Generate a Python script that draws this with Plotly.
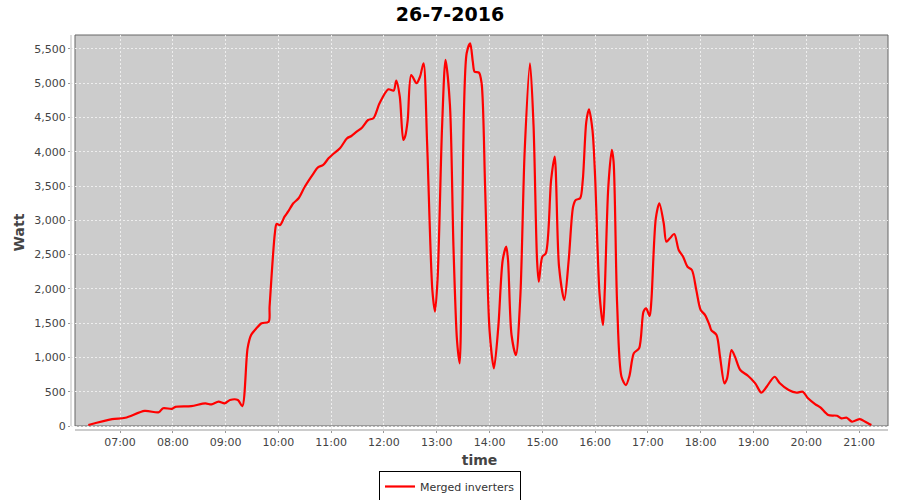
import plotly.graph_objects as go

DATE = "2016-07-26"

times = [
    "06:24", "06:51", "07:06", "07:28", "07:44", "07:49", "07:59", "08:03", "08:21", "08:37",
    "08:44", "08:52", "08:59", "09:05", "09:14", "09:19", "09:25", "09:29", "09:35", "09:41",
    "09:49", "09:50", "09:56", "09:58", "10:02", "10:07", "10:11", "10:17", "10:23", "10:30",
    "10:40", "10:45", "10:51", "10:57", "11:02", "11:10", "11:18", "11:23", "11:29", "11:35",
    "11:42", "11:48", "11:55", "12:05", "12:11", "12:14", "12:18", "12:22", "12:24", "12:27",
    "12:31", "12:37", "12:41", "12:45", "12:49", "12:55", "12:58", "13:01", "13:06", "13:10",
    "13:15", "13:19", "13:23", "13:26", "13:29", "13:34", "13:38", "13:41", "13:43", "13:48",
    "13:51", "13:55", "14:00", "14:05", "14:10", "14:15", "14:19", "14:21", "14:25", "14:30",
    "14:35", "14:40", "14:46", "14:50", "14:54", "14:56", "15:00", "15:04", "15:10", "15:14",
    "15:19", "15:25", "15:30", "15:35", "15:38", "15:43", "15:46", "15:50", "15:53", "15:57",
    "16:00", "16:05", "16:09", "16:11", "16:15", "16:19", "16:21", "16:25", "16:30", "16:35",
    "16:39", "16:44", "16:50", "16:55", "16:58", "17:02", "17:04", "17:09", "17:13", "17:18",
    "17:21", "17:25", "17:30", "17:35", "17:40", "17:45", "17:50", "17:55", "18:00", "18:05",
    "18:10", "18:12", "18:18", "18:22", "18:27", "18:30", "18:35", "18:39", "18:45", "18:54",
    "19:02", "19:09", "19:15", "19:24", "19:30", "19:40", "19:49", "19:56", "20:02", "20:10",
    "20:16", "20:25", "20:35", "20:40", "20:46", "20:52", "21:01", "21:07", "21:14",
]

watts = [
    15, 100, 120, 220, 200, 260, 250, 280, 290, 330,
    315, 355, 330, 380, 380, 290, 1133, 1327, 1425, 1498,
    1522, 1740, 2811, 2947, 2932, 3054, 3127, 3249, 3322, 3491,
    3687, 3774, 3808, 3905, 3964, 4051, 4197, 4231, 4293, 4352,
    4464, 4489, 4708, 4912, 4892, 5038, 4804, 4172, 4221, 4464,
    5121, 5000, 5096, 5291, 4148, 1984, 1668, 2155, 4343, 5340,
    4683, 2616, 1255, 915, 3127, 5437, 5583, 5315, 5169, 5155,
    5000, 3468, 1400, 842, 1449, 2422, 2616, 2422, 1328, 1036,
    1886, 4027, 5291, 4391, 2422, 2105, 2470, 2519, 3589, 3929,
    2324, 1838, 2422, 3200, 3297, 3322, 3589, 4440, 4620, 4318,
    3637, 1936, 1474, 1984, 3491, 4027, 3856, 1790, 719, 598,
    730, 1061, 1133, 1668, 1717, 1605, 1838, 3030, 3249, 2957,
    2689, 2738, 2801, 2568, 2470, 2324, 2276, 1984, 1692, 1619,
    1474, 1400, 1328, 1011, 623, 696, 1109, 1011, 817, 730,
    623, 486, 574, 719, 623, 525, 486, 500, 404, 321,
    272, 160, 150, 112, 121, 63, 102, 63, 15,
]

series_name = "Merged inverters"
chart_title = "26-7-2016"
x_title = "time"
y_title = "Watt"

x_dt = [f"{DATE} {t}:00" for t in times]

FONT = "DejaVu Sans"

fig = go.Figure()
fig.add_trace(go.Scatter(
    x=x_dt, y=watts, mode="lines", name=series_name,
    line=dict(color="#ff0000", width=2.2, shape="spline", smoothing=0.8),
    showlegend=True,
))

W, H = 900, 500
ml, mr, mt, mb = 71, 12, 35, 70
pw = W - ml - mr
ph = H - mt - mb
gx = 4 / pw
gy = 4 / ph

fig.update_layout(
    width=W, height=H,
    margin=dict(l=ml, r=mr, t=mt, b=mb, autoexpand=False),
    paper_bgcolor="white",
    plot_bgcolor="white",
    font=dict(family=FONT, color="#444444", size=11),
    title=dict(text=f"<b>{chart_title}</b>", x=0.5, xanchor="center",
               yref="container", y=0.972, yanchor="middle",
               font=dict(family=FONT, size=19, color="black"), automargin=False),
    xaxis=dict(
        type="date", automargin=False,
        range=[f"{DATE} 06:04:18", f"{DATE} 21:32:54"],
        tickformat="%H:%M", dtick=3600000, tick0=f"{DATE} 07:00:00",
        showgrid=True, gridcolor="#eeeeee", griddash="2px,2px", gridwidth=1,
        showline=False, zeroline=False,
        ticks="outside", ticklen=2, tickcolor="#999999",
        tickfont=dict(size=11, color="#444444"),
        title=dict(text=f"<b>{x_title}</b>", font=dict(size=14, color="#444444"), standoff=6),
    ),
    yaxis=dict(
        range=[-58, 5704], automargin=False,
        dtick=500, tick0=0, tickformat=",",
        showgrid=True, gridcolor="#eeeeee", griddash="2px,2px", gridwidth=1,
        showline=False, zeroline=False,
        ticks="outside", ticklen=2, tickcolor="#999999",
        tickfont=dict(size=11, color="#444444"),
        title=dict(text=f"<b>{y_title}</b>", font=dict(size=14, color="#444444"), standoff=6),
    ),
    legend=dict(
        orientation="h", xref="container", yref="container",
        x=0.5, xanchor="center", y=0.058, yanchor="top",
        bordercolor="black", borderwidth=1, bgcolor="white",
        font=dict(size=11, color="#333333"), itemwidth=30,
    ),
    shapes=[
        dict(type="rect", xref="paper", yref="paper", x0=gx, x1=1, y0=gy, y1=1,
             fillcolor="#cccccc", line=dict(color="#666666", width=1), layer="below"),
        dict(type="line", xref="paper", yref="paper", x0=gx, x1=1, y0=0, y1=0,
             line=dict(color="#999999", width=1)),
        dict(type="line", xref="paper", yref="paper", x0=0, x1=0, y0=gy, y1=1,
             line=dict(color="#bbbbbb", width=1)),
    ],
)

fig.write_html("out.html", config={"displayModeBar": False},
               post_script="document.body.style.margin='0';")
